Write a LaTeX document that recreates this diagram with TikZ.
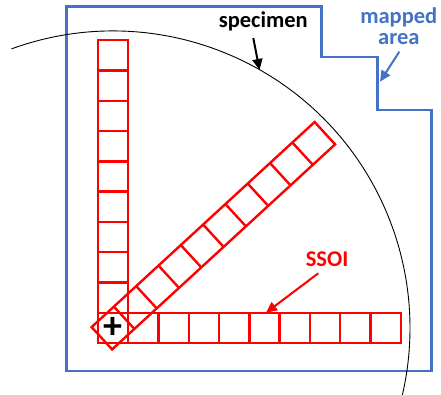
\documentclass[tikz,border=0pt]{standalone}
\usepackage{fontspec}
\setmainfont{Carlito}
\usetikzlibrary{arrows.meta}
\definecolor{mblue}{HTML}{4472C4}
\definecolor{mred}{HTML}{FF0000}
\tikzset{
  cellline/.style={draw=mred, line width=2.4pt},
  mapline/.style={draw=mblue, line width=2.6pt},
  specline/.style={draw=black, line width=0.9pt},
  lbl/.style={font=\fontsize{22.5}{24}\selectfont\bfseries, inner sep=0pt, anchor=base},
  pointer/.style={line width=2pt, -{Triangle[length=11pt,width=10pt]}}
}
\begin{document}
\begin{tikzpicture}[x=1pt,y=1pt]
\useasboundingbox (0,0) rectangle (441,394);
\clip (0,0) rectangle (441,394);
% mapped area outline
\draw[mapline] (66.5,387.5) -- (321.5,387.5) -- (321.5,337) -- (377.5,337) -- (377.5,284) -- (431.5,284) -- (431.5,23) -- (66.5,23) -- cycle;
% specimen edge
\draw[specline] (113,66) ++(110:297) arc[start angle=110, end angle=-14, radius=297];
% SSOI strips
\foreach \ang in {0,90,42.6}{
  \begin{scope}[shift={(113,66)}, rotate=\ang]
    \draw[cellline] (-15.15,-15.15) rectangle (287.85,15.15);
    \foreach \i in {1,...,9}
      \draw[cellline] ({-15.15+30.3*\i},-15.15) -- ++(0,30.3);
  \end{scope}
}
\node[font=\fontsize{38}{38}\selectfont\bfseries, inner sep=0pt] (origin) at (113,66) {+};
% labels
\node[lbl, text=black] (spec) at (263.3,366) {specimen};
\node[lbl, text=mblue] (mapped) at (398.8,370.5) {mapped};
\node[lbl, text=mblue] (area) at (398.8,349) {area};
\node[lbl, text=mred] (ssoi) at (327,128) {SSOI};
% arrows
\coordinate (specfrom) at (253.3,356);
\coordinate (spectip) at (259.5,324);
\coordinate (areafrom) at (399.3,342.3);
\coordinate (areatip) at (380,312.3);
\coordinate (ssoifrom) at (318.3,120.7);
\coordinate (ssoitip) at (266,81.3);
\draw[pointer, black] (specfrom) -- (spectip);
\draw[pointer, mblue] (areafrom) -- (areatip);
\draw[pointer, mred] (ssoifrom) -- (ssoitip);
\end{tikzpicture}
\end{document}
